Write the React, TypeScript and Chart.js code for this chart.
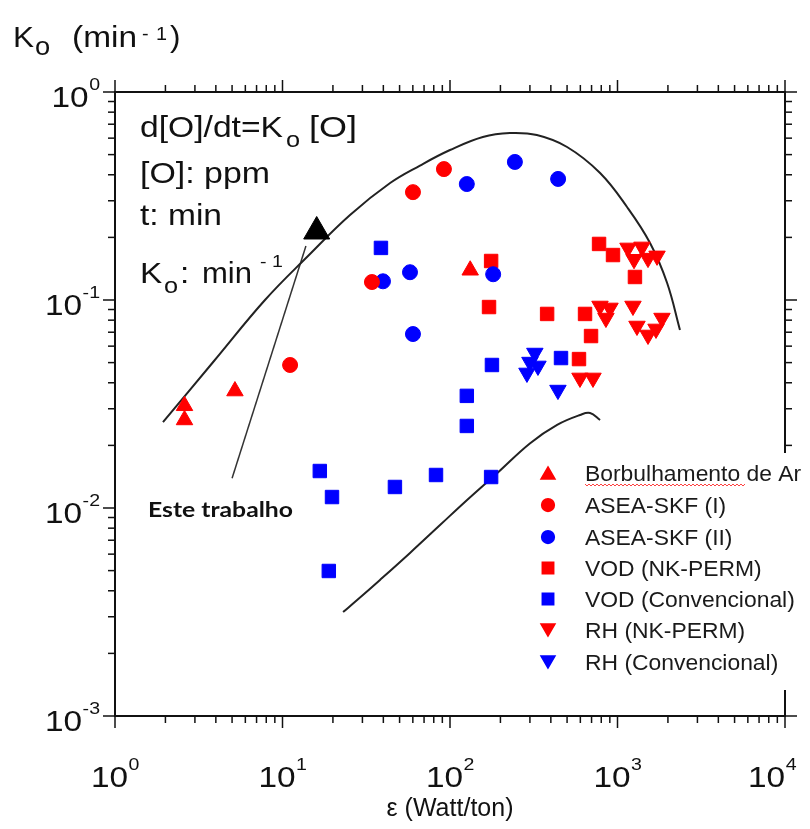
import React, { useEffect, useRef } from 'react';
import { Chart, registerables } from 'chart.js';
import { drawPoint } from 'chart.js/helpers';

Chart.register(...registerables);

const RED = '#ff0000';
const BLUE = '#0000ff';
const FONT = '"Liberation Sans", Arial, sans-serif';

// ---- data ----
const legendLabels = [
  'Borbulhamento de Ar',
  'ASEA-SKF (I)',
  'ASEA-SKF (II)',
  'VOD (NK-PERM)',
  'VOD (Convencional)',
  'RH (NK-PERM)',
  'RH (Convencional)',
];

const borbX = [2.6, 2.6, 5.2, 132];
const borbY = [0.031, 0.0265, 0.0365, 0.139];

const aseaIX = [11.1, 34.2, 60.1, 92];
const aseaIY = [0.0487, 0.122, 0.33, 0.426];

const aseaIIX = [39.8, 57.7, 60.1, 126, 181, 244, 442];
const aseaIIY = [0.123, 0.136, 0.0686, 0.361, 0.133, 0.461, 0.382];

const vodNkX = [171, 176, 380, 589, 640, 695, 776, 940, 1271];
const vodNkY = [0.0925, 0.154, 0.0857, 0.052, 0.0857, 0.0671, 0.186, 0.1645, 0.129];

const vodConvX = [16.7, 18.9, 19.75, 38.7, 46.9, 82.5, 126, 126, 176, 178, 460];
const vodConvY = [0.01506, 0.00498, 0.01129, 0.178, 0.01262, 0.01441, 0.0346, 0.0248, 0.01409, 0.0487, 0.0526];

const rhNkX = [597, 714, 786, 853, 902, 1155, 1237, 1255, 1307, 1400, 1521, 1521, 1698, 1722, 1843];
const rhNkY = [0.0422, 0.0422, 0.0936, 0.0819, 0.0916, 0.178, 0.0936, 0.157, 0.075, 0.18, 0.159, 0.0679, 0.0726, 0.163, 0.0819];

const rhConvX = [288, 300, 321, 335, 441];
const rhConvY = [0.0446, 0.0503, 0.0556, 0.0482, 0.0369];

const esteX = [16.0];
const esteY = [0.2135];

const upperX = [1.934, 3.9, 7.86, 14.2, 25.3, 43.9, 66.2, 100, 157, 228, 330, 500, 787, 1140, 1564, 1976, 2360];
const upperY = [0.0259, 0.0509, 0.1, 0.1628, 0.2563, 0.365, 0.443, 0.526, 0.608, 0.635, 0.621, 0.544, 0.408, 0.28, 0.188, 0.121, 0.0718];

const lowerX = [23, 27.9, 38.2, 57.7, 87.2, 126, 191, 301, 436, 598, 686, 787];
const lowerY = [0.00316, 0.00361, 0.00451, 0.00608, 0.00828, 0.0109, 0.0147, 0.0205, 0.0251, 0.028, 0.0286, 0.0265];

const annotX = [13.8, 5.0];
const annotY = [0.182, 0.0139];

const xTickValues = [1, 10, 100, 1000, 10000];
const xTickExps = ['0', '1', '2', '3', '4'];
const yTickValues = [1, 0.1, 0.01, 0.001];
const yTickExps = ['0', '-1', '-2', '-3'];

const mk = (xs: number[], ys: number[]) => xs.map((x, i) => ({ x, y: ys[i] }));

const OFF = 8; // page -> canvas offset
const p = (v: number) => v - OFF;
const CW = 794;
const CH = 813;

type TxtOpts = { w?: number; sx?: number; align?: 'left' | 'center' | 'right'; bold?: boolean; family?: string; color?: string };

function txt(ctx: CanvasRenderingContext2D, s: string, x: number, y: number, size: number, o: TxtOpts = {}) {
  ctx.save();
  ctx.font = `${o.bold ? 'bold ' : ''}${size}px ${o.family || FONT}`;
  const m = ctx.measureText(s).width;
  const sx = o.w ? o.w / m : o.sx ?? 1;
  const W = m * sx;
  let x0 = x;
  if (o.align === 'center') x0 = x - W / 2;
  else if (o.align === 'right') x0 = x - W;
  ctx.translate(x0, y);
  ctx.scale(sx, 1);
  ctx.fillStyle = o.color || '#111';
  ctx.textBaseline = 'alphabetic';
  ctx.textAlign = 'left';
  ctx.fillText(s, 0, 0);
  ctx.restore();
  return W;
}

function measure(ctx: CanvasRenderingContext2D, s: string, size: number, sx: number) {
  ctx.save();
  ctx.font = `${size}px ${FONT}`;
  const w = ctx.measureText(s).width * sx;
  ctx.restore();
  return w;
}

const S = 1.15;

const decorPlugin = {
  id: 'decor',
  afterDraw(chart: any) {
    const ctx: CanvasRenderingContext2D = chart.ctx;
    const a = chart.chartArea;
    const xs = chart.scales.x;
    const ys = chart.scales.y;
    ctx.save();

    // frame
    ctx.strokeStyle = '#111';
    ctx.lineWidth = 2;
    ctx.strokeRect(a.left, a.top, a.right - a.left, a.bottom - a.top);

    // ticks (outward)
    ctx.lineWidth = 1.5;
    const MAJ = 12, MIN = 7;
    const tickLine = (x1: number, y1: number, x2: number, y2: number) => {
      ctx.beginPath();
      ctx.moveTo(x1, y1);
      ctx.lineTo(x2, y2);
      ctx.stroke();
    };
    for (let k = 0; k < 4; k++) {
      for (let m = 1; m <= 9; m++) {
        const v = m * Math.pow(10, k);
        const px = xs.getPixelForValue(v);
        const len = m === 1 ? MAJ : MIN;
        tickLine(px, a.bottom, px, a.bottom + len);
        tickLine(px, a.top, px, a.top - len);
      }
    }
    {
      const px = xs.getPixelForValue(10000);
      tickLine(px, a.bottom, px, a.bottom + MAJ);
      tickLine(px, a.top, px, a.top - MAJ);
    }
    for (let k = -3; k < 0; k++) {
      for (let m = 1; m <= 9; m++) {
        const v = m * Math.pow(10, k);
        const py = ys.getPixelForValue(v);
        const len = m === 1 ? MAJ : MIN;
        tickLine(a.left - len, py, a.left, py);
        tickLine(a.right, py, a.right + len, py);
      }
    }
    {
      const py = ys.getPixelForValue(1);
      tickLine(a.left - MAJ, py, a.left, py);
      tickLine(a.right, py, a.right + MAJ, py);
    }

    // y tick labels
    const LBL = 29, SUP = 17;
    yTickValues.forEach((v, i) => {
      const ty = ys.getPixelForValue(v);
      const right = a.left - 15;
      const ew = measure(ctx, yTickExps[i], SUP, S);
      txt(ctx, yTickExps[i], right - ew, ty - 2, SUP, { sx: S });
      txt(ctx, '10', right - ew - 0.5, ty + 15, LBL, { sx: S, align: 'right' });
    });
    // x tick labels
    xTickValues.forEach((v, i) => {
      const tx = xs.getPixelForValue(v);
      const w10 = measure(ctx, '10', LBL, S);
      const ew = measure(ctx, xTickExps[i], SUP, S);
      let start = tx - (w10 + ew) / 2;
      start = Math.min(start, CW - 6 - (w10 + ew));
      txt(ctx, '10', start, a.bottom + 71, LBL, { sx: S });
      txt(ctx, xTickExps[i], start + w10 + 0.5, a.bottom + 54, SUP, { sx: S });
    });

    // axis title x
    txt(ctx, 'ε (Watt/ton)', (a.left + a.right) / 2, p(816), 26, { w: 127, align: 'center' });

    // y title
    txt(ctx, 'K', p(13), p(47), 30, { sx: 1.05 });
    txt(ctx, 'o', p(35), p(55), 26, { sx: 1.05 });
    txt(ctx, '(min', p(72), p(47), 30, { w: 65 });
    txt(ctx, '-', p(142), p(40), 18, { sx: 1.1 });
    txt(ctx, '1', p(156), p(40), 18, { sx: 1.1 });
    txt(ctx, ')', p(170), p(47), 30, { sx: 1.05 });

    // equation block
    txt(ctx, 'd[O]/dt=K', p(140), p(137), 29, { w: 143 });
    txt(ctx, 'o', p(286), p(147), 22, { sx: S });
    txt(ctx, '[O]', p(309), p(137), 29, { w: 48 });
    txt(ctx, '[O]: ppm', p(140), p(183), 29, { w: 130 });
    txt(ctx, 't: min', p(140), p(225), 29, { w: 82 });
    txt(ctx, 'K', p(140), p(283), 29, { sx: S });
    txt(ctx, 'o', p(164), p(293), 22, { sx: S });
    txt(ctx, ':', p(180), p(283), 29, { sx: S });
    txt(ctx, 'min', p(202), p(283), 29, { w: 50 });
    txt(ctx, '-', p(260), p(267), 17, { sx: S });
    txt(ctx, '1', p(272), p(267), 17, { sx: S });

    // "Este trabalho"
    txt(ctx, 'Este trabalho', p(148), p(517), 20, { bold: true, family: 'Lato, "Open Sans", sans-serif', w: 145, color: '#111' });

    // legend box (white, hides the right frame behind it)
    ctx.fillStyle = '#ffffff';
    ctx.fillRect(p(534), p(453), CW - p(534), p(690) - p(453));

    const rows = [473, 505, 537, 568, 599, 630, 662];
    const styles = chart.data.datasets.slice(0, 7);
    styles.forEach((ds: any, i: number) => {
      const cy = p(rows[i]);
      ctx.save();
      ctx.fillStyle = ds.pointBackgroundColor;
      ctx.strokeStyle = ds.pointBorderColor;
      drawPoint(ctx, {
        pointStyle: ds.pointStyle,
        rotation: ds.pointRotation || 0,
        radius: ds.pointRadius * 0.85,
        borderWidth: 1,
      } as any, p(548), cy + (ds.pointStyle === 'triangle' ? (ds.pointRotation ? -2 : 2) : 0));
      ctx.restore();
      txt(ctx, legendLabels[i], p(585), cy + 8, 22, { sx: 1.04, color: '#1a1a1a' });
    });
    // spell-check squiggle under "Borbulhamento"
    ctx.strokeStyle = '#ff4040';
    ctx.lineWidth = 1;
    ctx.beginPath();
    const sy = p(485);
    for (let x = p(585), j = 0; x <= p(745); x += 2, j++) {
      const yy = sy + (j % 2 === 0 ? -1 : 1);
      if (j === 0) ctx.moveTo(x, yy);
      else ctx.lineTo(x, yy);
    }
    ctx.stroke();

    ctx.restore();
  },
};

export default function App() {
  const ref = useRef<HTMLCanvasElement>(null);
  useEffect(() => {
    const pt = (color: string, style: string, radius: number, rotation = 0) => ({
      pointStyle: style,
      pointRadius: radius,
      pointRotation: rotation,
      pointBackgroundColor: color,
      pointBorderColor: color,
      pointBorderWidth: 1,
      backgroundColor: color,
      borderColor: color,
      showLine: false,
    });
    const chart = new Chart(ref.current as HTMLCanvasElement, {
      type: 'scatter',
      data: {
        datasets: [
          { label: legendLabels[0], data: mk(borbX, borbY), ...pt(RED, 'triangle', 9.5) },
          { label: legendLabels[1], data: mk(aseaIX, aseaIY), ...pt(RED, 'circle', 7.5) },
          { label: legendLabels[2], data: mk(aseaIIX, aseaIIY), ...pt(BLUE, 'circle', 7.5) },
          { label: legendLabels[3], data: mk(vodNkX, vodNkY), ...pt(RED, 'rect', 9.5) },
          { label: legendLabels[4], data: mk(vodConvX, vodConvY), ...pt(BLUE, 'rect', 9.5) },
          { label: legendLabels[5], data: mk(rhNkX, rhNkY), ...pt(RED, 'triangle', 9.5, 180) },
          { label: legendLabels[6], data: mk(rhConvX, rhConvY), ...pt(BLUE, 'triangle', 9.5, 180) },
          { label: 'Este trabalho', data: mk(esteX, esteY), ...pt('#000', 'triangle', 15) },
          {
            label: 'upper', data: mk(upperX, upperY), showLine: true, pointRadius: 0,
            borderColor: '#222', borderWidth: 2, tension: 0.4, fill: false,
          },
          {
            label: 'lower', data: mk(lowerX, lowerY), showLine: true, pointRadius: 0,
            borderColor: '#222', borderWidth: 2, tension: 0.4, fill: false,
          },
          {
            label: 'annot', data: mk(annotX, annotY), showLine: true, pointRadius: 0,
            borderColor: '#333', borderWidth: 1.5, tension: 0, fill: false,
          },
        ] as any,
      },
      options: {
        responsive: false,
        animation: false,
        events: [],
        layout: { padding: { left: 107, right: 17, top: 84, bottom: 105 } },
        scales: {
          x: { type: 'logarithmic', min: 1, max: 10000, display: false },
          y: { type: 'logarithmic', min: 0.001, max: 1, display: false },
        },
        plugins: { legend: { display: false }, tooltip: { enabled: false } },
      } as any,
      plugins: [decorPlugin],
    });
    return () => chart.destroy();
  }, []);
  return (
    <div style={{ width: CW, height: CH }}>
      <canvas ref={ref} width={CW} height={CH} style={{ display: 'block' }} />
    </div>
  );
}
